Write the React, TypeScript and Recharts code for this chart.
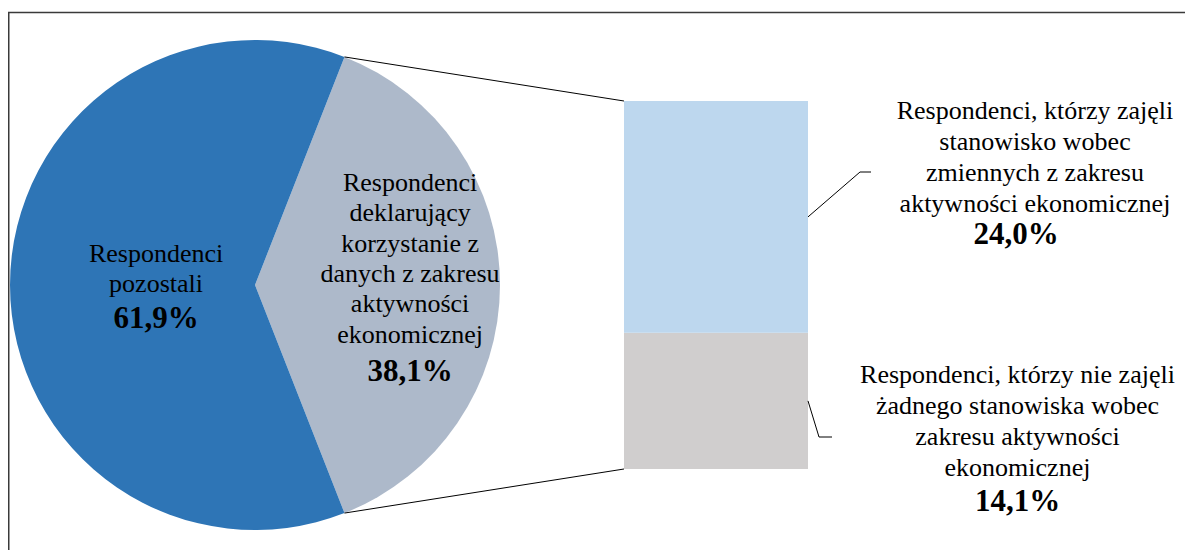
import React from 'react'
import { Bar, BarChart, Cell, Pie, PieChart, XAxis, YAxis } from 'recharts'

// pie: slice 0 is exploded into the bar on the right
const pieNames = ['deklarujący', 'pozostali']
const pieValues = [38.1, 61.9]
const pieColors = ['#ADB9CA', '#2E75B6']
const pieLabelLines = [
  ['Respondenci', 'deklarujący', 'korzystanie z', 'danych z zakresu', 'aktywności', 'ekonomicznej'],
  ['Respondenci', 'pozostali'],
]

// bar: bottom segment first
const barKeys = ['nie', 'tak']
const barValues = [14.1, 24.0]
const barColors = ['#D0CECE', '#BDD7EE']
const barLabelLines = [
  ['Respondenci, którzy nie zajęli', 'żadnego stanowiska wobec', 'zakresu aktywności', 'ekonomicznej'],
  ['Respondenci, którzy zajęli', 'stanowisko wobec', 'zmiennych z zakresu', 'aktywności ekonomicznej'],
]

const W = 1185
const H = 542
const FONT = 'Tinos, "Nimbus Roman", "Times New Roman", "Liberation Serif", serif'
const SIZE = 26
const PCT_SIZE = 31
const PCT_LH = 35

const CX = 247
const CY = 277
const R = 245

const BAR_LEFT = 616
const BAR_W = 184
const BAR_TOP = 93
const BAR_BOTTOM = 461

const fmt = (v: number) => v.toFixed(1).replace('.', ',') + '%'

const pieTotal = pieValues.reduce((a, b) => a + b, 0)
const half = (pieValues[0] / pieTotal) * 180

const pieData = pieNames.map((name, i) => ({ name, value: pieValues[i] }))
const barRow: Record<string, number | string> = { name: 'x' }
barKeys.forEach((k, i) => (barRow[k] = barValues[i]))
const barTotal = barValues.reduce((a, b) => a + b, 0)

// baseline offset from the top of a line box (Times-like metrics)
const baseOff = (size: number, lh: number) => (lh - 1.107 * size) / 2 + 0.891 * size

type LabelProps = { x: number; y: number; lines: string[]; pct: string; lineH: number; gap: number; pctX?: number }

const HtmlLabel = ({ x, y, lines, pct, lineH, gap, pctX }: LabelProps) => {
  const pctY = y + (lines.length - 1) * lineH + gap
  const px = pctX ?? x
  return (
    <>
      <div
        style={{
          position: 'absolute',
          left: x - 200,
          width: 400,
          top: y - baseOff(SIZE, lineH),
          textAlign: 'center',
          fontFamily: FONT,
          fontSize: SIZE,
          lineHeight: `${lineH}px`,
          color: '#000',
          whiteSpace: 'nowrap',
        }}
      >
        {lines.map((l, i) => (
          <div key={i}>{l}</div>
        ))}
      </div>
      <div
        style={{
          position: 'absolute',
          left: px - 100,
          width: 200,
          top: pctY - baseOff(PCT_SIZE, PCT_LH),
          textAlign: 'center',
          fontFamily: FONT,
          fontSize: PCT_SIZE,
          fontWeight: 'bold',
          lineHeight: `${PCT_LH}px`,
          color: '#000',
        }}
      >
        {pct}
      </div>
    </>
  )
}

const Overlay: React.FC = () => {
  const a = (half * Math.PI) / 180
  const px = CX + R * Math.cos(a)
  const pyTop = CY - R * Math.sin(a)
  const pyBot = CY + R * Math.sin(a)
  const scaleY = (v: number) => BAR_BOTTOM - (v / barTotal) * (BAR_BOTTOM - BAR_TOP)
  const right = BAR_LEFT + BAR_W
  const midTop = (scaleY(barValues[0]) + scaleY(barTotal)) / 2
  const midBot = (scaleY(0) + scaleY(barValues[0])) / 2
  return (
    <svg width={W} height={H} style={{ position: 'absolute', left: 0, top: 0, pointerEvents: 'none' }}>
      <line x1={0} y1={4.5} x2={W} y2={4.5} stroke="#3a3a3a" strokeWidth={1.5} />
      <line x1={0.75} y1={4} x2={0.75} y2={H} stroke="#3a3a3a" strokeWidth={1.5} />
      <line x1={px} y1={pyTop} x2={BAR_LEFT} y2={BAR_TOP} stroke="#000" strokeWidth={1} />
      <line x1={px} y1={pyBot} x2={BAR_LEFT} y2={BAR_BOTTOM} stroke="#000" strokeWidth={1} />
      <polyline points={`${right},${midTop} ${852},${164} ${863},${164}`} fill="none" stroke="#000" strokeWidth={1} />
      <polyline points={`${right},${midBot} ${811},${429} ${824},${429}`} fill="none" stroke="#000" strokeWidth={1} />
    </svg>
  )
}

export default function App() {
  // slice label anchors from the pie geometry
  const mids = [0, 180]
  const dists = [0.633, 0.404]
  const labelX = mids.map((m, i) => CX + R * dists[i] * Math.cos((m * Math.PI) / 180))
  return (
    <div style={{ position: 'relative', width: W, height: H, overflow: 'hidden', background: '#fff' }}>
      <div style={{ position: 'absolute', left: 0, top: 0 }}>
        <PieChart width={W} height={H} margin={{ top: 0, right: 0, bottom: 0, left: 0 }}>
          <Pie
            data={pieData}
            dataKey="value"
            cx={CX}
            cy={CY}
            outerRadius={R}
            startAngle={-half}
            endAngle={360 - half}
            stroke="none"
            isAnimationActive={false}
          >
            {pieData.map((d, i) => (
              <Cell key={d.name} fill={pieColors[i]} />
            ))}
          </Pie>
        </PieChart>
      </div>
      <div style={{ position: 'absolute', left: BAR_LEFT, top: 0 }}>
        <BarChart
          width={BAR_W}
          height={H}
          data={[barRow]}
          margin={{ top: BAR_TOP, right: 0, bottom: H - BAR_BOTTOM, left: 0 }}
          barCategoryGap={0}
        >
          <XAxis dataKey="name" hide />
          <YAxis hide domain={[0, barTotal]} />
          {barKeys.map((k, i) => (
            <Bar key={k} dataKey={k} stackId="a" fill={barColors[i]} isAnimationActive={false} />
          ))}
        </BarChart>
      </div>
      <Overlay />
      <HtmlLabel x={labelX[0]} y={CY - 93} lines={pieLabelLines[0]} pct={fmt(pieValues[0])} lineH={30.3} gap={37} />
      <HtmlLabel x={labelX[1]} y={CY - 22} lines={pieLabelLines[1]} pct={fmt(pieValues[1])} lineH={30} gap={35} />
      <HtmlLabel x={1027} y={111} lines={barLabelLines[1]} pct={fmt(barValues[1])} lineH={31} gap={32} pctX={1008} />
      <HtmlLabel x={1009.5} y={375} lines={barLabelLines[0]} pct={fmt(barValues[0])} lineH={31} gap={35} />
    </div>
  )
}
